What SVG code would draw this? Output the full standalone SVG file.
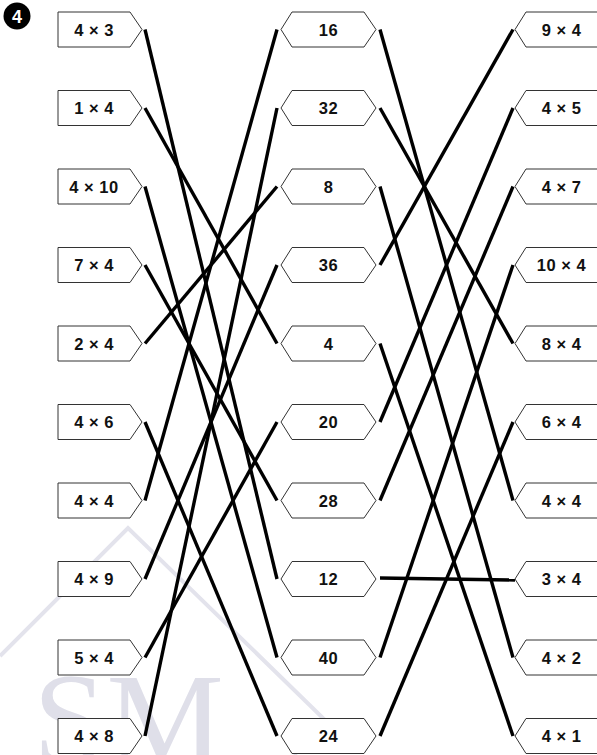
<svg xmlns="http://www.w3.org/2000/svg" width="597" height="755" viewBox="0 0 597 755">
<style>
.nd{fill:#fff;stroke:#333;stroke-width:1}
.lb{font-family:"Liberation Sans",Arial,sans-serif;font-weight:bold;font-size:16.5px;fill:#111;text-anchor:middle;letter-spacing:0.5px}
.cn line{stroke:#000;stroke-width:3.4}
.wm{fill:none;stroke:#e3e3ec;stroke-width:4}
</style>
<rect width="597" height="755" fill="#fff"/>
<g id="watermark">
<path class="wm" d="M0,656 L128,528 L327,722 L294,755"/>
<text x="33" y="764" font-family="'Liberation Serif','Times New Roman',serif" font-size="132" fill="#dfdfe9">SM</text>
</g>
<g id="badge">
<circle cx="17" cy="16" r="13.5" fill="#000"/>
<text x="17" y="22.5" font-family="'Liberation Sans',Arial,sans-serif" font-weight="bold" font-size="18" fill="#fff" text-anchor="middle">4</text>
</g>
<g class="cn" id="connectors">
<line x1="145" y1="29.5" x2="277" y2="579"/>
<line x1="145" y1="108" x2="277" y2="343.5"/>
<line x1="145" y1="186.5" x2="277" y2="657.5"/>
<line x1="145" y1="265" x2="277" y2="500.5"/>
<line x1="145" y1="343.5" x2="277" y2="186.5"/>
<line x1="145" y1="422" x2="277" y2="736"/>
<line x1="145" y1="500.5" x2="277" y2="29.5"/>
<line x1="145" y1="579" x2="277" y2="265"/>
<line x1="145" y1="657.5" x2="277" y2="422"/>
<line x1="145" y1="736" x2="277" y2="108"/>
<line x1="380" y1="29.5" x2="513" y2="500.5"/>
<line x1="380" y1="108" x2="513" y2="343.5"/>
<line x1="380" y1="186.5" x2="513" y2="657.5"/>
<line x1="380" y1="265" x2="513" y2="29.5"/>
<line x1="380" y1="343.5" x2="513" y2="736"/>
<line x1="380" y1="422" x2="513" y2="108"/>
<line x1="380" y1="500.5" x2="513" y2="186.5"/>
<line x1="380" y1="578" x2="515" y2="580"/>
<line x1="380" y1="657.5" x2="513" y2="265"/>
<line x1="380" y1="736" x2="513" y2="422"/>
</g>
<g id="L0"><path class="nd" d="M58,12 H130 L142,29.5 L130,47 H58 Z"/><text class="lb" x="94" y="35.5">4 × 3</text></g>
<g id="L1"><path class="nd" d="M58,90.5 H130 L142,108 L130,125.5 H58 Z"/><text class="lb" x="94" y="114">1 × 4</text></g>
<g id="L2"><path class="nd" d="M58,169 H130 L142,186.5 L130,204 H58 Z"/><text class="lb" x="94" y="192.5">4 × 10</text></g>
<g id="L3"><path class="nd" d="M58,247.5 H130 L142,265 L130,282.5 H58 Z"/><text class="lb" x="94" y="271">7 × 4</text></g>
<g id="L4"><path class="nd" d="M58,326 H130 L142,343.5 L130,361 H58 Z"/><text class="lb" x="94" y="349.5">2 × 4</text></g>
<g id="L5"><path class="nd" d="M58,404.5 H130 L142,422 L130,439.5 H58 Z"/><text class="lb" x="94" y="428">4 × 6</text></g>
<g id="L6"><path class="nd" d="M58,483 H130 L142,500.5 L130,518 H58 Z"/><text class="lb" x="94" y="506.5">4 × 4</text></g>
<g id="L7"><path class="nd" d="M58,561.5 H130 L142,579 L130,596.5 H58 Z"/><text class="lb" x="94" y="585">4 × 9</text></g>
<g id="L8"><path class="nd" d="M58,640 H130 L142,657.5 L130,675 H58 Z"/><text class="lb" x="94" y="663.5">5 × 4</text></g>
<g id="L9"><path class="nd" d="M58,718.5 H130 L142,736 L130,753.5 H58 Z"/><text class="lb" x="94" y="742">4 × 8</text></g>
<g id="M0"><path class="nd" d="M281,29.5 L292,12 H364 L376,29.5 L364,47 H292 Z"/><text class="lb" x="328.5" y="35.5">16</text></g>
<g id="M1"><path class="nd" d="M281,108 L292,90.5 H364 L376,108 L364,125.5 H292 Z"/><text class="lb" x="328.5" y="114">32</text></g>
<g id="M2"><path class="nd" d="M281,186.5 L292,169 H364 L376,186.5 L364,204 H292 Z"/><text class="lb" x="328.5" y="192.5">8</text></g>
<g id="M3"><path class="nd" d="M281,265 L292,247.5 H364 L376,265 L364,282.5 H292 Z"/><text class="lb" x="328.5" y="271">36</text></g>
<g id="M4"><path class="nd" d="M281,343.5 L292,326 H364 L376,343.5 L364,361 H292 Z"/><text class="lb" x="328.5" y="349.5">4</text></g>
<g id="M5"><path class="nd" d="M281,422 L292,404.5 H364 L376,422 L364,439.5 H292 Z"/><text class="lb" x="328.5" y="428">20</text></g>
<g id="M6"><path class="nd" d="M281,500.5 L292,483 H364 L376,500.5 L364,518 H292 Z"/><text class="lb" x="328.5" y="506.5">28</text></g>
<g id="M7"><path class="nd" d="M281,579 L292,561.5 H364 L376,579 L364,596.5 H292 Z"/><text class="lb" x="328.5" y="585">12</text></g>
<g id="M8"><path class="nd" d="M281,657.5 L292,640 H364 L376,657.5 L364,675 H292 Z"/><text class="lb" x="328.5" y="663.5">40</text></g>
<g id="M9"><path class="nd" d="M281,736 L292,718.5 H364 L376,736 L364,753.5 H292 Z"/><text class="lb" x="328.5" y="742">24</text></g>
<g id="R0"><path class="nd" d="M515,29.5 L526,12 H600 V47 H526 Z"/><text class="lb" x="561.5" y="35.5">9 × 4</text></g>
<g id="R1"><path class="nd" d="M515,108 L526,90.5 H600 V125.5 H526 Z"/><text class="lb" x="561.5" y="114">4 × 5</text></g>
<g id="R2"><path class="nd" d="M515,186.5 L526,169 H600 V204 H526 Z"/><text class="lb" x="561.5" y="192.5">4 × 7</text></g>
<g id="R3"><path class="nd" d="M515,265 L526,247.5 H600 V282.5 H526 Z"/><text class="lb" x="561.5" y="271">10 × 4</text></g>
<g id="R4"><path class="nd" d="M515,343.5 L526,326 H600 V361 H526 Z"/><text class="lb" x="561.5" y="349.5">8 × 4</text></g>
<g id="R5"><path class="nd" d="M515,422 L526,404.5 H600 V439.5 H526 Z"/><text class="lb" x="561.5" y="428">6 × 4</text></g>
<g id="R6"><path class="nd" d="M515,500.5 L526,483 H600 V518 H526 Z"/><text class="lb" x="561.5" y="506.5">4 × 4</text></g>
<g id="R7"><path class="nd" d="M515,579 L526,561.5 H600 V596.5 H526 Z"/><text class="lb" x="561.5" y="585">3 × 4</text></g>
<g id="R8"><path class="nd" d="M515,657.5 L526,640 H600 V675 H526 Z"/><text class="lb" x="561.5" y="663.5">4 × 2</text></g>
<g id="R9"><path class="nd" d="M515,736 L526,718.5 H600 V753.5 H526 Z"/><text class="lb" x="561.5" y="742">4 × 1</text></g>
</svg>
